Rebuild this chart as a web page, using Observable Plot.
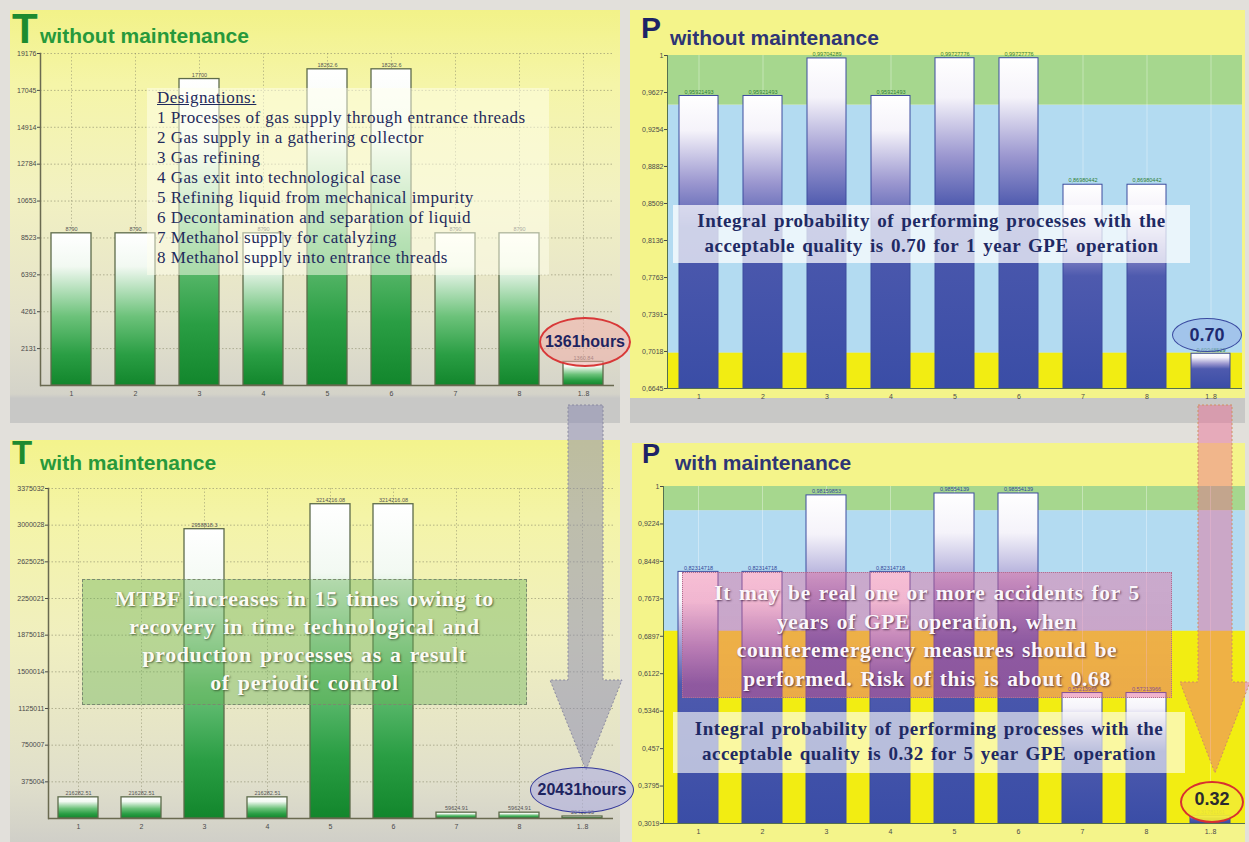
<!DOCTYPE html>
<html><head><meta charset="utf-8">
<script src="https://cdn.jsdelivr.net/npm/d3@7"></script>
<script src="https://cdn.jsdelivr.net/npm/@observablehq/plot@0.6"></script>
<style>
body{margin:0;width:1249px;height:842px;position:relative;overflow:hidden;background:#e2e0db;font-family:"Liberation Sans",Arial,sans-serif}
.panel{position:absolute;overflow:hidden}
.panel svg{position:absolute;left:0;top:0}
.ttl{position:absolute;font-weight:bold;line-height:1;white-space:nowrap}
.box{position:absolute;box-sizing:border-box}
.lines{position:absolute;font-family:"Liberation Serif","Times New Roman",serif;white-space:nowrap}
.ell{position:absolute;border-radius:50%;box-sizing:border-box;display:flex;align-items:center;justify-content:center;font-weight:bold;white-space:nowrap}
</style></head><body>
<svg width="0" height="0" style="position:absolute">
  <defs>
    <linearGradient id="gT" x1="0" y1="0" x2="0" y2="1">
      <stop offset="0" stop-color="#ffffff"/>
      <stop offset="0.22" stop-color="#f2f9f2"/>
      <stop offset="0.55" stop-color="#6cc27a"/>
      <stop offset="0.8" stop-color="#2a9e44"/>
      <stop offset="1" stop-color="#12862c"/>
    </linearGradient>
    <linearGradient id="gP" x1="0" y1="0" x2="0" y2="1">
      <stop offset="0" stop-color="#ffffff"/>
      <stop offset="0.12" stop-color="#f5f3fa"/>
      <stop offset="0.3" stop-color="#9a96cf"/>
      <stop offset="0.45" stop-color="#4e5aae"/>
      <stop offset="1" stop-color="#3a4da6"/>
    </linearGradient>
  </defs>
</svg>

<div id="tl" class="panel" style="left:10px;top:10px;width:610px;height:413px;background:linear-gradient(180deg,#f2f288 0%,#f5f5a8 18%,#f2f1c2 45%,#e4e2cc 75%,#d4d3c9 93%,#c8c8c6 94%,#c8c8c6 100%)"></div>
<div id="tr" class="panel" style="left:630px;top:10px;width:615px;height:413px;background:linear-gradient(180deg,#f4f48a 0%,#f4f48a 94%,#c8c8c6 94%,#c8c8c6 100%)"></div>
<div id="bl" class="panel" style="left:10px;top:440px;width:610px;height:402px;background:linear-gradient(180deg,#f3f38c 0%,#f4f4a8 20%,#f0efc0 50%,#e0dfcb 85%,#d0cfc8 100%)"></div>
<div id="br" class="panel" style="left:632px;top:443px;width:613px;height:399px;background:#f4f48a"></div>

<!-- titles -->
<div class="ttl" style="left:12px;top:8px;font-size:42px;color:#1d8b2f">T</div>
<div class="ttl" style="left:40px;top:25px;font-size:21px;color:#27993b">without maintenance</div>
<div class="ttl" style="left:641px;top:13px;font-size:30px;color:#1c2366">P</div>
<div class="ttl" style="left:670px;top:27px;font-size:21px;color:#2e3575">without maintenance</div>
<div class="ttl" style="left:12px;top:436px;font-size:33px;color:#1d8b2f">T</div>
<div class="ttl" style="left:40px;top:452px;font-size:21px;color:#27993b">with maintenance</div>
<div class="ttl" style="left:642px;top:441px;font-size:27px;color:#1c2366">P</div>
<div class="ttl" style="left:675px;top:452px;font-size:21px;color:#2e3575">with maintenance</div>

<!-- text boxes -->
<div class="box" style="left:147px;top:88px;width:402px;height:187px;background:rgba(255,255,238,0.5)"></div>
<div class="lines" style="left:157px;top:88px;font-size:17px;letter-spacing:0.45px;line-height:20px;color:#1f2a5c">
  <div style="text-decoration:underline">Designations:</div>
  <div>1 Processes of gas supply through entrance threads</div>
  <div>2 Gas supply in a gathering collector</div>
  <div>3 Gas refining</div>
  <div>4 Gas exit into technological case</div>
  <div>5 Refining liquid from mechanical impurity</div>
  <div>6 Decontamination and separation of liquid</div>
  <div>7 Methanol supply  for catalyzing</div>
  <div>8 Methanol supply  into entrance threads</div>
</div>

<div class="box" style="left:673px;top:205px;width:517px;height:58px;background:rgba(255,255,255,0.72)"></div>
<div class="lines" style="left:673px;top:208px;width:517px;text-align:center;font-size:19px;font-weight:bold;letter-spacing:0.5px;line-height:25px;color:#1f2a64;word-spacing:2px">
  <div>Integral probability of  performing processes with the</div>
  <div>acceptable  quality  is  0.70 for 1 year GPE operation</div>
</div>

<div class="box" style="left:82px;top:579px;width:445px;height:126px;background:rgba(105,178,88,0.42);border:1px dashed #7a8a70"></div>
<div class="lines" style="left:60px;top:585px;width:489px;text-align:center;font-size:22px;font-weight:bold;letter-spacing:0.6px;line-height:28px;color:#fbfbf4;text-shadow:1px 1px 2px rgba(40,60,30,0.7);word-spacing:2px">
  <div>MTBF increases in 15 times owing to</div>
  <div>recovery  in time technological and</div>
  <div>production processes as a result</div>
  <div>of periodic control</div>
</div>

<div class="box" style="left:682px;top:572px;width:490px;height:126px;background:linear-gradient(180deg,rgba(236,96,150,0.40),rgba(226,86,140,0.44));border:1px dotted #b07090"></div>
<div class="lines" style="left:682px;top:579px;width:490px;text-align:center;font-size:21.5px;font-weight:bold;letter-spacing:0.6px;line-height:28.5px;color:#fbf6fb;text-shadow:1px 1px 2px rgba(60,30,60,0.75);word-spacing:2px">
  <div>It may be real one or more accidents for 5</div>
  <div>years of GPE operation,  when</div>
  <div>counteremergency  measures should be</div>
  <div>performed.  Risk of this is about 0.68</div>
</div>

<div class="box" style="left:673px;top:712px;width:512px;height:61px;background:rgba(255,255,250,0.62)"></div>
<div class="lines" style="left:673px;top:716px;width:512px;text-align:center;font-size:19px;font-weight:bold;letter-spacing:0.5px;line-height:25px;color:#1f2a64;word-spacing:2px">
  <div>Integral probability of  performing processes with the</div>
  <div>acceptable  quality  is  0.32 for 5 year GPE operation</div>
</div>

<!-- arrows -->
<svg style="position:absolute;left:0;top:0" width="1249" height="842">
  <polygon points="568,405 603,405 603,680 622,680 586,770 550,680 568,680" fill="rgba(135,135,175,0.5)" stroke="#8a8aa0" stroke-dasharray="2,2" stroke-width="1"/>
  <polygon points="1198,405 1232,405 1232,682 1250,682 1215,773 1180,682 1198,682" fill="rgba(236,96,140,0.42)" stroke="#d09060" stroke-dasharray="2,2" stroke-width="1"/>
</svg>

<!-- ellipses -->
<div class="ell" style="left:539px;top:317px;width:92px;height:50px;border:2px solid #d83838;background:rgba(240,175,170,0.55);font-size:16px;color:#1e2460">1361hours</div>
<div class="ell" style="left:1172px;top:318px;width:70px;height:34px;border:1.5px solid #3a4aa0;background:rgba(150,180,232,0.6);font-size:18px;color:#1e2a70">0.70</div>
<div class="ell" style="left:530px;top:767px;width:104px;height:46px;border:1.5px solid #34389a;background:rgba(175,175,225,0.6);font-size:16px;color:#1e2460">20431hours</div>
<div class="ell" style="left:1180px;top:781px;width:64px;height:42px;border:2px solid #d83030;background:rgba(242,236,50,0.92);font-size:18px;color:#2a2a30;padding-bottom:6px">0.32</div>

<script>
// ---------- data ----------
const categories = ["1", "2", "3", "4", "5", "6", "7", "8", "1..8"];

const tWithout = [8790, 8790, 17700, 8790, 18262.6, 18262.6, 8790, 8790, 1360.84];
const tWithoutTicks = [2131, 4261, 6392, 8523, 10653, 12784, 14914, 17045, 19176];

const tWith = [216282.51, 216282.51, 2958818.3, 216282.51, 3214216.08, 3214216.08, 59624.91, 59624.91, 20430.95];
const tWithTicks = [375004, 750007, 1125011, 1500014, 1875018, 2250021, 2625025, 3000028, 3375032];

const pWithout = [0.95921493, 0.95921493, 0.99704289, 0.95921493, 0.99727776, 0.99727776, 0.86980442, 0.86980442, 0.69948529];
const pWithoutTicks = [0.6645, 0.7018, 0.7391, 0.7763, 0.8136, 0.8509, 0.8882, 0.9254, 0.9627, 1];

const pWith = [0.82314718, 0.82314718, 0.98159853, 0.82314718, 0.98554139, 0.98554139, 0.57213966, 0.57213966, 0.31781161];
const pWithTicks = [0.3019, 0.3795, 0.457, 0.5346, 0.6122, 0.6897, 0.7673, 0.8449, 0.9224, 1];

const pZoneEdges = [0.70, 0.95]; // yellow below, light blue between, green above

// ---------- helpers ----------
const rowsOf = (vals) => categories.map((c, i) => ({cat: c, value: vals[i]}));
const baseStyle = {background: "transparent", fontFamily: "Liberation Sans, Arial, sans-serif", fontSize: "7px", color: "#4a4a4a", overflow: "visible"};

function tPanel(vals, ticks, cfg) {
  const rows = rowsOf(vals);
  return Plot.plot({
    width: cfg.w, height: cfg.h,
    marginLeft: cfg.ml, marginRight: cfg.mr, marginTop: cfg.mt, marginBottom: cfg.mb,
    style: baseStyle,
    x: {domain: categories, paddingInner: cfg.pi, paddingOuter: cfg.po, label: null},
    y: {domain: [0, ticks[ticks.length - 1]], label: null},
    marks: [
      Plot.gridY(ticks, {stroke: "#8a8a6a", strokeOpacity: 0.6, strokeDasharray: "1.5,2"}),
      Plot.ruleX(categories, {stroke: "#8a8a6a", strokeOpacity: 0.5, strokeDasharray: "1.5,2"}),
      Plot.barY(rows, {x: "cat", y: "value", fill: "url(#gT)", stroke: "#5d6b4a", strokeWidth: 1.3}),
      Plot.text(rows, {x: "cat", y: "value", text: d => String(d.value), dy: -4, fontSize: 5.5, fill: "#555"}),
      Plot.axisY(ticks, {tickSize: 3, tickFormat: d => String(d), fontSize: 7, tickPadding: 1}),
      Plot.axisX({tickSize: 0, tickPadding: 6, fontSize: 7}),
      Plot.frame({anchor: "left", stroke: "#6a6a50", strokeWidth: 1.5}),
      Plot.ruleY([0], {stroke: "#6a6a50", strokeWidth: 1.5})
    ]
  });
}

function pPanel(vals, ticks, cfg, labelColor) {
  const rows = rowsOf(vals);
  const ymin = ticks[0];
  return Plot.plot({
    width: cfg.w, height: cfg.h,
    marginLeft: cfg.ml, marginRight: cfg.mr, marginTop: cfg.mt, marginBottom: cfg.mb,
    style: baseStyle,
    x: {domain: categories, paddingInner: cfg.pi, paddingOuter: cfg.po, label: null},
    y: {domain: [ymin, 1], label: null},
    marks: [
      Plot.rect([{lo: pZoneEdges[1], hi: 1}], {y1: "lo", y2: "hi", fill: "#a6d78e"}),
      Plot.rect([{lo: pZoneEdges[0], hi: pZoneEdges[1]}], {y1: "lo", y2: "hi", fill: "#b3dbf1"}),
      Plot.rect([{lo: ymin, hi: pZoneEdges[0]}], {y1: "lo", y2: "hi", fill: "#f2ed12"}),
      Plot.ruleX(categories, {stroke: "#ffffff", strokeOpacity: 0.35}),
      Plot.barY(rows, {x: "cat", y1: ymin, y2: "value", fill: "url(#gP)", stroke: "#3c4c9e", strokeWidth: 1}),
      Plot.text(rows, {x: "cat", y: "value", text: d => String(d.value).replace(".", ","), dy: -4, fontSize: 5.5, fill: labelColor}),
      Plot.axisY(ticks, {tickSize: 3, tickFormat: d => String(d).replace(".", ","), fontSize: 7, tickPadding: 1}),
      Plot.axisX({tickSize: 0, tickPadding: 6, fontSize: 7}),
      Plot.frame({anchor: "left", stroke: "#557050", strokeWidth: 1}),
      Plot.ruleY([ymin], {stroke: "#557050", strokeWidth: 1})
    ]
  });
}

document.getElementById("tl").appendChild(
  tPanel(tWithout, tWithoutTicks, {w: 610, h: 413, ml: 30, mr: 6, mt: 43, mb: 38, pi: 0.38, po: 0.16}));
document.getElementById("bl").appendChild(
  tPanel(tWith, tWithTicks, {w: 610, h: 402, ml: 38, mr: 7, mt: 48, mb: 24, pi: 0.365, po: 0.165}));
document.getElementById("tr").appendChild(
  pPanel(pWithout, pWithoutTicks, {w: 615, h: 413, ml: 37, mr: 3, mt: 45, mb: 35, pi: 0.39, po: 0.16}, "#2f7f35"));
document.getElementById("br").appendChild(
  pPanel(pWith, pWithTicks, {w: 613, h: 399, ml: 31, mr: 0, mt: 43, mb: 19, pi: 0.38, po: 0.19}, "#33489a"));
</script>
</body></html>
